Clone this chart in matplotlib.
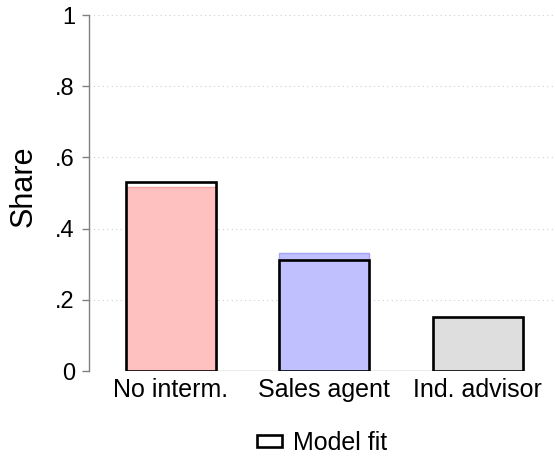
import numpy as np
import matplotlib.pyplot as plt

plt.rcParams['font.family'] = ['Liberation Sans', 'DejaVu Sans']

# Data
categories = ["No interm.", "Sales agent", "Ind. advisor"]
data_share = [0.518, 0.331, 0.152]
model_fit = [0.531, 0.312, 0.153]
fill_colors = ["#FFC0C0", "#C0C0FF", "#DEDEDE"]
edge_colors = ["#F4A4A4", "#A4A4F4", "#C8C8C8"]

x = np.arange(len(categories))
width = 0.588

fig = plt.figure(figsize=(5.55, 4.59), dpi=100)
ax = fig.add_axes([0.160, 0.1917, 0.836, 0.7756])

# dotted grid
for yv in [0, 0.2, 0.4, 0.6, 0.8, 1.0]:
    ax.axhline(yv, color="#D0D0D0", lw=0.8, ls=(0, (1, 3)), zorder=0)

ax.plot([x[0], x[-1]], [0, 0], color="#A0A0A0", lw=1, zorder=1)

ax.bar(x, data_share, width=width, color=fill_colors, edgecolor=edge_colors,
       linewidth=1, zorder=2)
ax.bar(x, model_fit, width=width, facecolor="none", edgecolor="black",
       linewidth=1.9, zorder=3, label="Model fit")

ax.set_xlim(-0.536, 2.49)
ax.set_ylim(0, 1)
ax.set_yticks([0, 0.2, 0.4, 0.6, 0.8, 1.0])
ax.set_yticklabels(["0", ".2", ".4", ".6", ".8", "1"], fontsize=17)
ax.set_xticks(x)
ax.set_xticklabels(categories, fontsize=18)
ax.tick_params(axis="x", length=0, pad=5)
ax.tick_params(axis="y", length=5, color="#808080", width=1, pad=5)
ax.set_ylabel("Share", fontsize=22)
ax.yaxis.set_label_coords(-0.108, 0.52)

for s in ["top", "right", "bottom"]:
    ax.spines[s].set_visible(False)
ax.spines["left"].set_color("#808080")
ax.spines["left"].set_linewidth(1)

fig.legend(loc="center", bbox_to_anchor=(0.58, 0.035), frameon=False,
           fontsize=18, handlelength=1.0, handleheight=0.32, handletextpad=0.45)

fig.savefig("out.png", dpi=100)
